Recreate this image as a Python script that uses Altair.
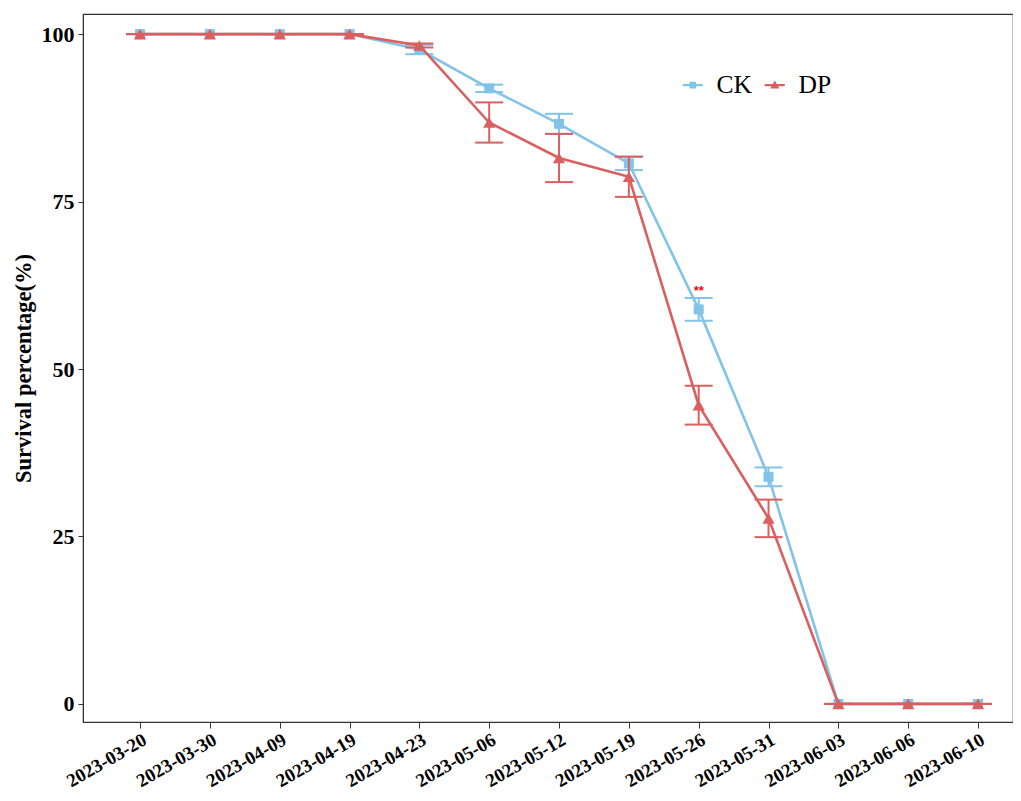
import altair as alt
import pandas as pd

dates = ["2023-03-20", "2023-03-30", "2023-04-09", "2023-04-19", "2023-04-23",
         "2023-05-06", "2023-05-12", "2023-05-19", "2023-05-26", "2023-05-31",
         "2023-06-03", "2023-06-06", "2023-06-10"]
ck_mean = [100, 100, 100, 100, 97.7, 91.9, 86.6, 80.7, 58.9, 33.9, 0, 0, 0]
ck_err = [0, 0, 0, 0, 0.7, 0.55, 1.5, 1.0, 1.7, 1.4, 0, 0, 0]
dp_mean = [100, 100, 100, 100, 98.3, 86.8, 81.5, 78.7, 44.6, 27.7, 0, 0, 0]
dp_err = [0, 0, 0, 0, 0.3, 3.0, 3.6, 3.0, 2.9, 2.8, 0, 0, 0]
series = ["CK", "DP"]
colors = ["#82C3E8", "#D9605F"]
sig_label = "**"
sig_index = 8

rows = []
for s, means, errs in [("CK", ck_mean, ck_err), ("DP", dp_mean, dp_err)]:
    for i, (d, m, e) in enumerate(zip(dates, means, errs)):
        rows.append({"idx": i, "date": d, "series": s, "mean": m,
                     "lo": m - e, "hi": m + e})
df = pd.DataFrame(rows)

label_expr = "[" + ",".join(f"'{d}'" for d in dates) + "][datum.value]"

xscale = alt.Scale(domain=[-0.817, 12.501], nice=False, zero=False)
yscale = alt.Scale(domain=[-2.7, 103.0], nice=False, zero=False)

x_axis = alt.Axis(values=list(range(len(dates))), labelExpr=label_expr,
                  labelAngle=-30, labelAlign="right", labelBaseline="top",
                  labelFont="Liberation Serif", labelFontWeight="bold",
                  labelFontSize=19, labelColor="black", labelPadding=2,
                  tickSize=6, tickColor="#333", domainColor="#333",
                  grid=False, title=None, labelOverlap=False, labelBound=False)
y_axis = alt.Axis(values=[0, 25, 50, 75, 100], labelFont="Liberation Serif",
                  labelFontWeight="bold", labelFontSize=22, labelColor="black",
                  tickSize=5, tickColor="#333", domainColor="#333", grid=False,
                  labelPadding=4, title="Survival percentage(%)",
                  titleFont="Liberation Serif", titleFontWeight="bold",
                  titleFontSize=22.5, titleColor="black", titlePadding=6)

base = alt.Chart(df)
layers = []
shapes = {"CK": "square", "DP": "triangle-up"}
sizes = {"CK": 100, "DP": 150}
for s, c in zip(series, colors):
    b = base.transform_filter(alt.datum.series == s)
    line = b.mark_line(color=c, strokeWidth=2.6).encode(
        x=alt.X("idx:Q", scale=xscale, axis=x_axis),
        y=alt.Y("mean:Q", scale=yscale, axis=y_axis))
    bar = b.mark_rule(color=c, strokeWidth=2).encode(
        x="idx:Q", y="lo:Q", y2="hi:Q")
    cap_lo = b.mark_tick(color=c, orient="horizontal", size=28, thickness=2,
                         opacity=1).encode(x="idx:Q", y="lo:Q")
    cap_hi = b.mark_tick(color=c, orient="horizontal", size=28, thickness=2,
                         opacity=1).encode(x="idx:Q", y="hi:Q")
    pts = b.mark_point(color=c, filled=True, opacity=1, shape=shapes[s],
                       size=sizes[s]).encode(x="idx:Q", y="mean:Q")
    layers += [line, bar, cap_lo, cap_hi, pts]

sig = base.transform_filter(
    (alt.datum.series == "CK") & (alt.datum.idx == sig_index)
).mark_text(text=sig_label, color="red", fontSize=13, fontWeight="bold",
            dy=0, baseline="bottom").encode(x="idx:Q", y="hi:Q")
layers.append(sig)

ck_path = "M-1.2,-0.12H1.2V0.12H-1.2Z M-0.4,-0.4H0.4V0.4H-0.4Z"
dp_path = "M-1.2,-0.12H1.2V0.12H-1.2Z M0,-0.55L0.55,0.4H-0.55Z"
legend_layer = base.mark_point(filled=True, opacity=0).encode(
    x="idx:Q", y="mean:Q",
    color=alt.Color("series:N", scale=alt.Scale(domain=series, range=colors),
                    legend=alt.Legend(title=None, orient="none", legendX=597,
                                      legendY=58, direction="horizontal",
                                      symbolSize=280, symbolOpacity=1,
                                      symbolStrokeWidth=0,
                                      labelFont="Liberation Serif",
                                      labelFontSize=25.5, labelColor="black",
                                      labelOffset=11, columnPadding=10)),
    shape=alt.Shape("series:N", scale=alt.Scale(domain=series,
                                                range=[ck_path, dp_path]),
                    legend=None))
layers.insert(0, legend_layer)

chart = alt.layer(*layers).properties(
    width=930, height=708,
    autosize=alt.AutoSizeParams(type="none"),
    padding={"left": 75, "top": 6, "right": 0, "bottom": 71},
).configure_view(stroke="#333", strokeWidth=1.2)

chart.save("out.html", embed_options={"renderer": "svg", "actions": False})
